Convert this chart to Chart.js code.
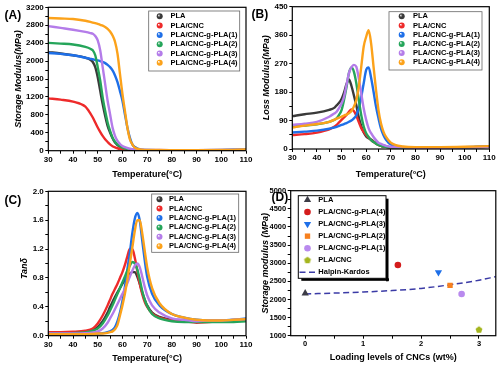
<!DOCTYPE html>
<html>
<head>
<meta charset="utf-8">
<script src="https://cdn.jsdelivr.net/npm/chart.js@4.4.0/dist/chart.umd.min.js"></script>
<style>
  html, body { margin: 0; padding: 0; background: #fff; }
  #wrap { position: relative; width: 500px; height: 368px; }
  #wrap canvas { position: absolute; left: 0; top: 0; }
</style>
</head>
<body>
<div id="wrap">
  <canvas id="panelA" width="500" height="368"></canvas>
  <canvas id="panelB" width="500" height="368"></canvas>
  <canvas id="panelC" width="500" height="368"></canvas>
  <canvas id="panelD" width="500" height="368"></canvas>
</div>
<script>
const FONT = '"Liberation Sans", Arial, Helvetica, sans-serif';

// sample names used in A, B and C
const seriesNames = ['PLA', 'PLA/CNC', 'PLA/CNC-g-PLA(1)', 'PLA/CNC-g-PLA(2)', 'PLA/CNC-g-PLA(3)', 'PLA/CNC-g-PLA(4)'];
const seriesColors = ['#3a3a3a', '#ee2a2a', '#1e6fe8', '#25a55a', '#b47ce9', '#fca21a'];

// (A) storage modulus (MPa) and (B) loss modulus (MPa) vs temperature
const tempAB = [30, 35, 40, 45, 47, 48, 49, 50, 51, 52, 53, 54, 55, 56, 57, 58, 59, 60, 61, 62, 63, 64, 65, 66, 67, 68, 70, 75, 80, 90, 100, 110];
const storagePLA = [2200, 2170, 2130, 2075, 2030, 1980, 1865, 1640, 1340, 1040, 780, 555, 405, 277, 180, 127, 90, 60, 45, 30, 22, 18, 15, 13, 12, 11, 10, 9, 9, 10, 12, 20];
const storageCNC = [1168, 1140, 1095, 985, 835, 740, 630, 517, 420, 330, 255, 195, 140, 100, 75, 55, 40, 30, 24, 20, 17, 15, 13, 12, 11, 10, 9, 8, 8, 9, 10, 15];
const storageG1 = [2180, 2160, 2130, 2075, 2050, 2040, 2025, 2015, 2000, 1980, 1955, 1915, 1865, 1790, 1680, 1530, 1330, 1115, 815, 517, 290, 142, 82, 50, 32, 24, 16, 12, 11, 12, 15, 25];
const storageG2 = [2405, 2390, 2370, 2315, 2275, 2240, 2130, 1865, 1565, 1190, 890, 630, 440, 290, 200, 140, 100, 70, 50, 35, 25, 20, 17, 15, 13, 12, 11, 10, 10, 11, 13, 22];
const storageG3 = [2780, 2740, 2700, 2650, 2625, 2610, 2560, 2460, 2240, 1865, 1490, 1115, 815, 515, 330, 217, 150, 105, 78, 60, 45, 36, 30, 25, 22, 20, 17, 14, 13, 13, 15, 25];
const storageG4 = [2960, 2950, 2940, 2900, 2875, 2860, 2845, 2830, 2810, 2790, 2760, 2720, 2660, 2570, 2430, 2165, 1715, 1265, 890, 517, 255, 142, 67, 45, 30, 24, 18, 14, 13, 13, 15, 28];

const lossPLA = [104, 110, 115, 124, 130, 138, 146, 158, 178, 205, 220, 200, 170, 138, 100, 72, 52, 40, 34, 30, 24, 18, 13, 10, 8, 7, 5, 4, 4, 4, 5, 7];
const lossCNC = [44, 47, 52, 62, 70, 76, 84, 92, 100, 108, 118, 125, 120, 105, 85, 66, 54, 44, 36, 28, 22, 17, 13, 10, 8, 7, 5, 4, 4, 4, 5, 7];
const lossG1 = [52, 55, 58, 64, 68, 70, 73, 76, 79, 82, 86, 90, 97, 107, 128, 165, 208, 250, 258, 225, 181, 134, 97, 65, 44, 30, 14, 6, 5, 5, 6, 8];
const lossG2 = [71, 74, 78, 86, 92, 97, 108, 123, 155, 195, 240, 258, 245, 208, 155, 107, 71, 50, 38, 28, 22, 17, 13, 10, 8, 7, 5, 4, 4, 4, 5, 7];
const lossG3 = [76, 80, 86, 102, 112, 118, 130, 144, 165, 202, 240, 258, 266, 260, 223, 176, 128, 92, 65, 50, 38, 28, 20, 16, 13, 10, 7, 5, 4, 4, 5, 7];
const lossG4 = [68, 74, 79, 86, 92, 96, 99, 102, 106, 109, 113, 120, 134, 155, 197, 260, 324, 355, 376, 334, 260, 187, 123, 81, 55, 39, 20, 8, 6, 6, 7, 9];

// (C) tan delta vs temperature
const tempC = [30, 35, 40, 45, 48, 50, 52, 54, 55, 56, 57, 58, 59, 60, 61, 62, 63, 64, 65, 66, 67, 68, 69, 70, 72, 75, 80, 85, 90, 95, 100, 105, 110];
const tanPLA = [0.04, 0.04, 0.045, 0.05, 0.08, 0.12, 0.2, 0.32, 0.4, 0.47, 0.54, 0.6, 0.66, 0.72, 0.77, 0.82, 0.86, 0.88, 0.88, 0.82, 0.72, 0.6, 0.5, 0.42, 0.32, 0.26, 0.22, 0.21, 0.2, 0.2, 0.2, 0.21, 0.21];
const tanCNC = [0.05, 0.05, 0.055, 0.07, 0.1, 0.17, 0.28, 0.42, 0.5, 0.58, 0.65, 0.72, 0.8, 0.88, 0.98, 1.1, 1.2, 1.2, 1.08, 0.9, 0.72, 0.58, 0.47, 0.4, 0.31, 0.25, 0.21, 0.2, 0.18, 0.19, 0.2, 0.21, 0.22];
const tanG1 = [0.02, 0.02, 0.02, 0.02, 0.025, 0.03, 0.035, 0.05, 0.06, 0.08, 0.12, 0.2, 0.32, 0.48, 0.68, 0.92, 1.15, 1.42, 1.62, 1.7, 1.6, 1.32, 1.05, 0.82, 0.58, 0.42, 0.3, 0.25, 0.22, 0.21, 0.21, 0.22, 0.24];
const tanG2 = [0.03, 0.03, 0.035, 0.045, 0.07, 0.1, 0.17, 0.28, 0.35, 0.42, 0.5, 0.58, 0.66, 0.74, 0.82, 0.9, 0.97, 1.02, 1.0, 0.92, 0.78, 0.62, 0.5, 0.41, 0.3, 0.24, 0.2, 0.19, 0.19, 0.19, 0.19, 0.19, 0.2];
const tanG3 = [0.03, 0.03, 0.03, 0.035, 0.045, 0.06, 0.1, 0.18, 0.24, 0.3, 0.37, 0.44, 0.51, 0.58, 0.65, 0.73, 0.82, 0.9, 0.97, 1.0, 0.95, 0.82, 0.68, 0.56, 0.42, 0.32, 0.24, 0.22, 0.2, 0.21, 0.21, 0.22, 0.23];
const tanG4 = [0.02, 0.02, 0.02, 0.02, 0.025, 0.03, 0.03, 0.04, 0.05, 0.06, 0.09, 0.15, 0.28, 0.42, 0.58, 0.78, 1.0, 1.22, 1.45, 1.6, 1.6, 1.42, 1.18, 0.95, 0.66, 0.45, 0.3, 0.25, 0.22, 0.21, 0.21, 0.22, 0.23];

// (D) storage modulus vs CNC loading
const dNames = ['PLA', 'PLA/CNC-g-PLA(4)', 'PLA/CNC-g-PLA(3)', 'PLA/CNC-g-PLA(2)', 'PLA/CNC-g-PLA(1)', 'PLA/CNC'];
const dLoading = [0, 1.6, 2.3, 2.5, 2.7, 3.0];
const dModulus = [2170, 2950, 2750, 2390, 2150, 1165];
const hkLoading = [0, 0.5, 1, 1.5, 2, 2.5, 3, 3.29];
const hkModulus = [2150, 2175, 2205, 2245, 2305, 2405, 2530, 2630];

// ---------------------------------------------------------------

function sphere(ctx, x, y, r, color) {
  const g = ctx.createRadialGradient(x - r * 0.4, y - r * 0.4, 0, x, y, r);
  g.addColorStop(0, '#ffffff');
  g.addColorStop(0.5, color);
  g.addColorStop(1, color);
  ctx.beginPath();
  ctx.arc(x, y, r, 0, Math.PI * 2);
  ctx.fillStyle = g;
  ctx.fill();
}

function pentagon(color, r) {
  const c = document.createElement('canvas');
  const s = Math.ceil(r * 2 + 2);
  c.width = s; c.height = s;
  const g = c.getContext('2d');
  g.beginPath();
  for (let k = 0; k < 5; k++) {
    const ang = -Math.PI / 2 + k * 2 * Math.PI / 5;
    g.lineTo(s / 2 + r * Math.cos(ang), s / 2 + r * Math.sin(ang));
  }
  g.closePath();
  g.fillStyle = color;
  g.fill();
  return c;
}

// frame, panel letter and boxed legend
const deco = {
  id: 'deco',
  afterDraw(chart, args, o) {
    const ctx = chart.ctx, a = chart.chartArea, L = o.legend;
    ctx.save();
    ctx.strokeStyle = '#000';
    ctx.lineWidth = 1.2;
    ctx.strokeRect(a.left, a.top, a.right - a.left, a.bottom - a.top);

    ctx.fillStyle = '#000';
    ctx.textAlign = 'left';
    ctx.textBaseline = 'middle';
    ctx.font = 'bold 12px ' + FONT;
    ctx.fillText(o.letter, o.letterX, o.letterY);

    if (L.shadow) {
      ctx.fillRect(L.x + 3, L.y + L.h, L.w, 2.5);
      ctx.fillRect(L.x + L.w, L.y + 3, 2.5, L.h);
    }
    ctx.fillStyle = '#fff';
    ctx.fillRect(L.x, L.y, L.w, L.h);
    ctx.strokeStyle = L.shadow ? '#000' : '#666';
    ctx.lineWidth = L.shadow ? 1 : 0.8;
    ctx.strokeRect(L.x, L.y, L.w, L.h);

    ctx.font = 'bold 7.5px ' + FONT;
    chart.data.datasets.forEach((ds, i) => {
      const y = L.rowY + i * L.dy;
      if (!L.shadow) {
        sphere(ctx, L.markerX, y, 3, ds.borderColor);
      } else if (ds.showLine) {
        ctx.strokeStyle = ds.borderColor;
        ctx.lineWidth = ds.borderWidth;
        ctx.setLineDash(ds.borderDash);
        ctx.beginPath();
        ctx.moveTo(L.markerX - 8, y);
        ctx.lineTo(L.markerX + 8, y);
        ctx.stroke();
        ctx.setLineDash([]);
      } else {
        ctx.fillStyle = ds.backgroundColor;
        ctx.strokeStyle = ds.backgroundColor;
        Chart.helpers.drawPoint(ctx, {
          pointStyle: ds.pointStyle, radius: ds.pointRadius,
          rotation: ds.rotation || 0, borderWidth: 0
        }, L.markerX, y);
      }
      ctx.fillStyle = '#000';
      ctx.fillText(ds.label, L.textX, y);
    });
    ctx.restore();
  }
};

function makeAxis(min, max, step, fmt, fit, horizontal, title, italic, tickSize) {
  return {
    type: 'linear', min: min, max: max,
    afterFit: s => { if (horizontal) s.height = fit; else s.width = fit; },
    border: { display: false },
    grid: { drawOnChartArea: false, tickLength: 3, color: '#000', lineWidth: 1 },
    ticks: {
      stepSize: step, autoSkip: false, includeBounds: false, maxRotation: 0,
      padding: horizontal ? 1 : 1.5, color: '#000',
      font: { family: FONT, size: tickSize, weight: 'bold' },
      callback: fmt
    },
    title: {
      display: true, text: title, color: '#000', padding: 0,
      font: { family: FONT, size: 9, weight: 'bold', style: italic ? 'italic' : 'normal' }
    }
  };
}

function curves(temps, lists) {
  return lists.map((vals, i) => ({
    label: seriesNames[i],
    data: temps.map((t, k) => ({ x: t, y: vals[k] })),
    borderColor: seriesColors[i],
    backgroundColor: seriesColors[i],
    borderWidth: 2.4,
    pointRadius: 0,
    showLine: true,
    cubicInterpolationMode: 'monotone',
    order: lists.length - i
  }));
}

function curveChart(id, datasets, pad, xAxis, yAxis, decoOpts) {
  return new Chart(document.getElementById(id), {
    type: 'scatter',
    data: { datasets: datasets },
    options: {
      responsive: false, animation: false, events: [],
      layout: { padding: pad },
      scales: { x: xAxis, y: yAxis },
      plugins: { legend: { display: false }, tooltip: { enabled: false }, deco: decoOpts }
    },
    plugins: [deco]
  });
}

const tempLabel = v => Math.round(v) % 10 === 0 ? v : '';

// (A)
curveChart('panelA',
  curves(tempAB, [storagePLA, storageCNC, storageG1, storageG2, storageG3, storageG4]),
  { left: 13.6, right: 254, top: 7.3, bottom: 187.6 },
  makeAxis(30, 110, 5, tempLabel, 29.7, true, 'Temperature(°C)', false, 8),
  makeAxis(0, 3200, 200, v => Math.round(v) % 400 === 0 ? v : '', 34.7, false, 'Storage Modulus(MPa)', true, 8),
  { letter: '(A)', letterX: 4.5, letterY: 15.5,
    legend: { x: 148.7, y: 11, w: 91, h: 60, markerX: 159.7, textX: 170.5, rowY: 16.3, dy: 9.3 } });

// (B)
curveChart('panelB',
  curves(tempAB, [lossPLA, lossCNC, lossG1, lossG2, lossG3, lossG4]),
  { left: 261.6, right: 10.7, top: 6.7, bottom: 187.8 },
  makeAxis(30, 110, 5, tempLabel, 31.2, true, 'Temperature(°C)', false, 8),
  makeAxis(0, 450, 45, v => Math.round(v) % 90 === 0 ? Math.round(v) : '', 30.7, false, 'Loss Modulus(MPa)', true, 8),
  { letter: '(B)', letterX: 251.5, letterY: 15,
    legend: { x: 389, y: 11.7, w: 93, h: 58.3, markerX: 401.7, textX: 413, rowY: 16.3, dy: 9.2 } });

// (C)  trailing spaces nudge the rotated title a little lower, as in the figure
curveChart('panelC',
  curves(tempC, [tanPLA, tanCNC, tanG1, tanG2, tanG3, tanG4]),
  { left: 19.6, right: 254, top: 191.3, bottom: 3.6 },
  makeAxis(30, 110, 5, tempLabel, 28.7, true, 'Temperature(°C)', false, 8),
  makeAxis(0, 2, 0.2, v => Math.round(v * 10) % 4 === 0 ? v.toFixed(1) : '', 28.7, false, 'Tanδ    ', true, 8),
  { letter: '(C)', letterX: 4.5, letterY: 200.5,
    legend: { x: 151.7, y: 194, w: 87, h: 58.3, markerX: 159.5, textX: 169, rowY: 199.2, dy: 9.4 } });

// (D)
const dStyles = [
  { pointStyle: 'triangle', pointRadius: 4.2, rotation: 0, color: '#3c3c46' },
  { pointStyle: 'circle', pointRadius: 3.3, rotation: 0, color: '#d41c1c' },
  { pointStyle: 'triangle', pointRadius: 4.2, rotation: 180, color: '#1e6fe8' },
  { pointStyle: 'rect', pointRadius: 3.8, rotation: 0, color: '#f7801f' },
  { pointStyle: 'circle', pointRadius: 3.3, rotation: 0, color: '#b98aee' },
  { pointStyle: pentagon('#a4b51e', 3.6), pointRadius: 3.6, rotation: 0, color: '#a4b51e' }
];

const dSets = dNames.map((name, i) => ({
  label: name,
  data: [{ x: dLoading[i], y: dModulus[i] }],
  pointStyle: dStyles[i].pointStyle,
  pointRadius: dStyles[i].pointRadius,
  rotation: dStyles[i].rotation,
  backgroundColor: dStyles[i].color,
  borderColor: dStyles[i].color,
  borderWidth: 0,
  order: 0
}));
dSets.push({
  label: 'Halpin-Kardos',
  data: hkLoading.map((x, k) => ({ x: x, y: hkModulus[k] })),
  showLine: true,
  borderColor: '#3b3ba6',
  backgroundColor: '#3b3ba6',
  borderWidth: 1.5,
  borderDash: [6, 3.5],
  pointRadius: 0,
  cubicInterpolationMode: 'monotone',
  order: 1
});

new Chart(document.getElementById('panelD'), {
  type: 'scatter',
  data: { datasets: dSets },
  options: {
    responsive: false, animation: false, events: [],
    layout: { padding: { left: 260.6, right: 4, top: 190.7, bottom: 5.3 } },
    scales: {
      x: makeAxis(-0.25, 3.29, 0.5, v => Math.abs(v - Math.round(v)) < 1e-6 ? Math.round(v) : '', 27, true, 'Loading levels of CNCs (wt%)', false, 7.5),
      y: makeAxis(1000, 5000, 250, v => Math.round(v) % 500 === 0 ? Math.round(v) : '', 30.1, false, 'Storage modulus (MPa)', true, 7.5)
    },
    plugins: {
      legend: { display: false }, tooltip: { enabled: false },
      deco: { letter: '(D)', letterX: 271.5, letterY: 198,
        legend: { x: 298.3, y: 195.7, w: 87.7, h: 82.6, markerX: 307.5, textX: 318.3, rowY: 200, dy: 12.05, shadow: true } }
    }
  },
  plugins: [deco]
});
</script>
</body>
</html>
